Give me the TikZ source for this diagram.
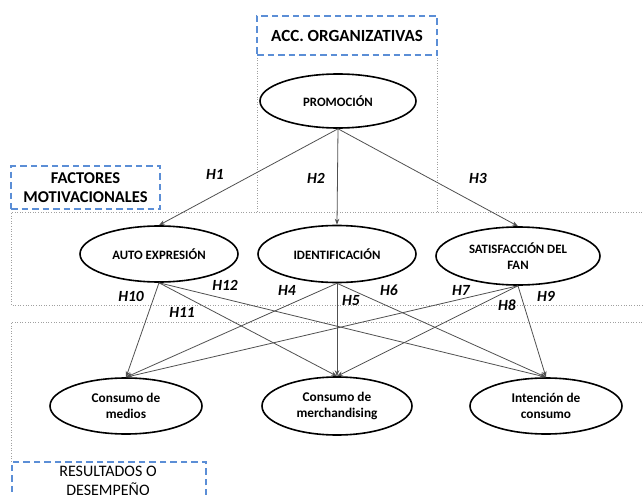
\documentclass[tikz,border=0pt]{standalone}
\usepackage{fontspec}
\setmainfont{Carlito}
\usetikzlibrary{arrows.meta,shapes.geometric}
\definecolor{dashblue}{HTML}{5B8ED6}
\definecolor{arrowgray}{HTML}{505050}
\definecolor{dotgray}{HTML}{A0A0A0}
\begin{document}
\begin{tikzpicture}[x=1pt,y=-1pt,
  ell/.style={draw=black, line width=1.6pt, ellipse, inner sep=0pt, align=center,
    font=\fontsize{12.8}{16}\selectfont\bfseries},
  ellb/.style={ell, font=\fontsize{13.3}{16}\selectfont\bfseries},
  arr/.style={draw=arrowgray, line width=0.8pt, -{Stealth[length=6pt,width=4.5pt]}},
  hlab/.style={font=\fontsize{15.5}{15}\selectfont\bfseries\itshape, inner sep=0pt},
  dashbox/.style={draw=dashblue, line width=1.6pt, dash pattern=on 6.5pt off 4pt, fill=white,
    align=center, inner sep=0pt},
  dotline/.style={draw=dotgray, line width=0.6pt, dotted}
]
\useasboundingbox (0,0) rectangle (643,495);
\clip (0,0) rectangle (643,495);

% dotted region frames
\draw[dotline] (257,55) -- (257,212);
\draw[dotline] (437,55) -- (437,212);
\draw[dotline] (660,212) -- (11,212) -- (11,305) -- (660,305);
\draw[dotline] (660,322) -- (11,322) -- (11,461);

% region titles
\node[dashbox, minimum width=180pt, minimum height=39pt,
  font=\fontsize{17}{18}\selectfont\bfseries] (acc) at (347,35.5) {ACC. ORGANIZATIVAS};
\node[dashbox, minimum width=149pt, minimum height=43pt,
  font=\fontsize{16.5}{19.5}\selectfont\bfseries] (fac) at (85.5,187.5) {FACTORES\\MOTIVACIONALES};
\node[dashbox, minimum width=194pt, minimum height=50pt, anchor=north west] (res) at (11,461) {};
\node[font=\fontsize{16}{19.5}\selectfont, align=center] (restxt) at (108,481) {RESULTADOS O\\DESEMPEÑO};

% ellipses
\node[ell, minimum width=156pt, minimum height=54pt] (prom) at (338,101) {PROMOCIÓN};
\node[ell, minimum width=158pt, minimum height=56pt] (auto) at (159,254) {AUTO EXPRESIÓN};
\node[ell, minimum width=158pt, minimum height=57pt] (iden) at (337,254) {IDENTIFICACIÓN};
\node[ell, minimum width=164pt, minimum height=58pt] (sat) at (518,256) {SATISFACCIÓN DEL\\FAN};
\node[ellb, minimum width=152pt, minimum height=56pt] (med) at (126,406) {Consumo de\\medios};
\node[ellb, minimum width=150pt, minimum height=58pt] (mer) at (337,406) {Consumo de\\merchandising};
\node[ellb, minimum width=152pt, minimum height=56pt] (int) at (546,406) {Intención de\\consumo};

% arrows
\draw[arr] (prom.south) -- (auto.north);
\draw[arr] (prom.south) -- (iden.north);
\draw[arr] (prom.south) -- (sat.north);
\foreach \s in {auto,iden,sat}{
  \foreach \t in {med,mer,int}{
    \draw[arr] (\s.south) -- (\t.north);
  }
}

% labels
\node[hlab] (h1) at (215,174) {H1};
\node[hlab] (h2) at (316,178) {H2};
\node[hlab] (h3) at (478,178) {H3};
\node[hlab] (h10) at (131,296) {H10};
\node[hlab] (h12) at (225,285) {H12};
\node[hlab] (h11) at (182,312) {H11};
\node[hlab] (h4) at (287,290) {H4};
\node[hlab] (h5) at (351,301) {H5};
\node[hlab] (h6) at (389,290) {H6};
\node[hlab] (h7) at (461,290) {H7};
\node[hlab] (h8) at (507,305) {H8};
\node[hlab] (h9) at (546,296) {H9};
\end{tikzpicture}
\end{document}
